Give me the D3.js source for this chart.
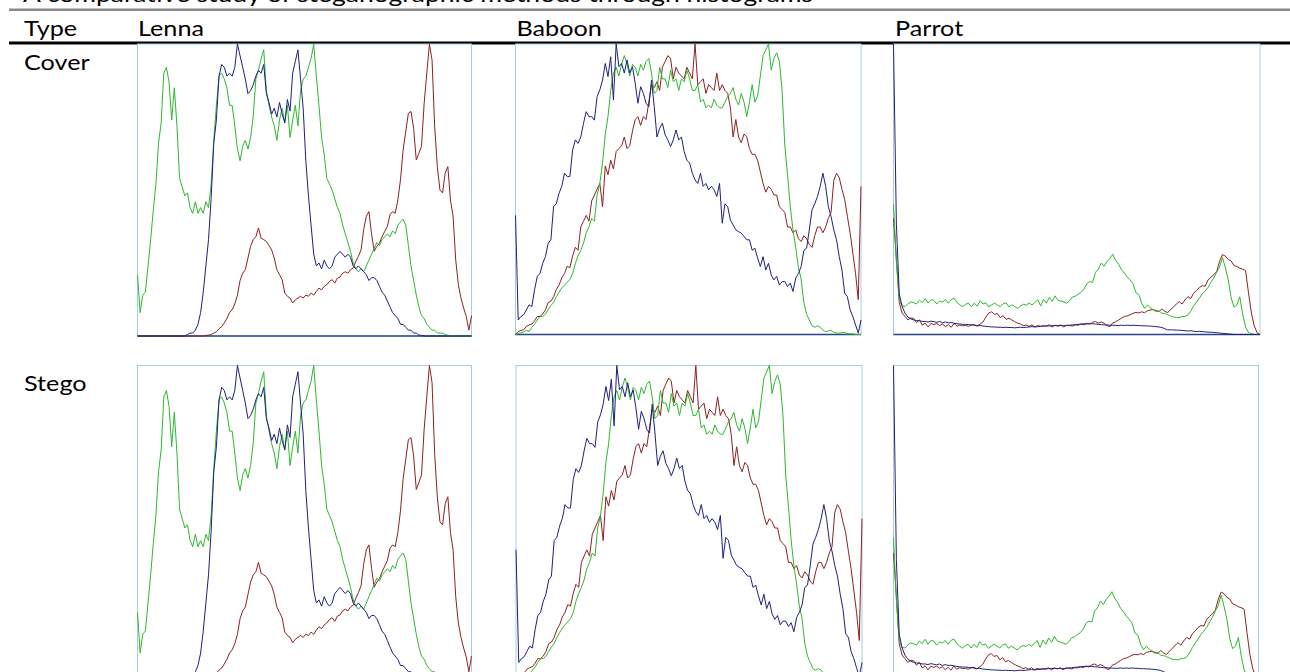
<!DOCTYPE html>
<html>
<head>
<meta charset="utf-8">
<script src="https://cdn.jsdelivr.net/npm/d3@7/dist/d3.min.js"></script>
<style>
  body { margin: 0; background: #fff; }
  svg text { font-family: Lato, "Open Sans", sans-serif; fill: #000; }
</style>
</head>
<body>
<div id="chart"></div>
<script>
// Table text
var title = "A comparative study of steganographic methods through histograms";
var typeLabel = "Type";
var images = ["Lenna", "Baboon", "Parrot"];
var rows = ["Cover", "Stego"];

// Histograms, 128 samples (every 2nd bin), scaled so the panel top is 100
var lennaRed = [0,0,0,0,0,0,0,0,0,0, 0,0,0,0,0,0,0,0,0,0, 0,0,0,0,0,0,0.2,0.3,0.5,1,
  1.5,2.5,3.2,4.5,6,8,9,11,14,19, 21.5,22.7,26.7,30.7,33,34,37,33.5,33,32.4,
  31,29.5,26.7,22.7,21,19.3,14.7,13.6,13,11.3, 12.4,13,13.6,13,14,13.6,14.7,14,15.3,16.4,
  15.8,17,17.6,18.7,19.3,18.1,19.8,20.2,21.5,22, 21.5,22.7,23.3,25.5,27.3,29.5,36.4,41,42.6,35,
  29,30.7,31.8,34,35.8,37.5,41.5,42.6,42,46.6, 53.5,63.7,70,76.3,76.9,71,60.3,62.6,65,79.7,
  90,100,94.5,71.7,58,50,49,55.8,58,46.6, 41,26,17.6,13,9.6,6.7,2,7];
var lennaGreen = [21,8,14,15,24,33,43,52,66,73, 90,92,87,74,85,72,54,51,48,49,
  44,42,46,42,44,42,46,44,52,67, 79,89,90,88,85,79,79,72,64,60,
  65,67,64,68,75,88,91,95,98,84, 79,75,72,67,74,78,73,79,68,74,
  79,72,84,88,89,92,95,100,89,79, 68,62,54,52,50,47,44,42,38,35,
  32,29,25,23,22,23,22,24,26,28, 30,32,31,33,34,35,34,36,35,38,
  39,40,38,31,24,19,14,10,7,6, 4,3,2,2,1,1,1,0.5,0.3,0.1, 0,0,0,0,0,0,0,0];
var lennaBlue = [0,0,0,0,0,0,0,0,0,0, 0,0,0,0,0,0,0,0,0,0.5,
  1,1,2,4,8,15,24,33,47,66, 74,89,93,92,89,90,89,92,100,96,
  92,88,83,84,86,89,91,90,93,83, 80,76,78,75,80,76,73,81,77,90,
  94,98,88,78,60,48,38,28,24,25, 23,26,24,23,24,27,28,29,28,27,
  28,27,24,23,24,23,22,21,19,20, 20,19,17,15,14,12,10,8,7,6,
  4,4,3,2,2,1,1,0.3,0.2,0, 0,0,0,0,0,0,0,0,0,0, 0,0,0,0,0,0,0,0];

var baboonRed = [0,1,1.4,1.6,2.8,3.3,3.6,4.7,6.2,6.2, 7,8.5,11,11.5,13,15.5,17,19.5,21,23.5,
  23,27,30,29,37,39,41,39,46,48, 50,52,44,58,55,60,57,63,64,65,
  68,64,65,70,74,75,72,75,74,80, 86,85,87,84,92,94,96,95,88,92,
  90,89,88,92,90,88,100,86,87,88, 83,86,85,84,90,84,86,84,83,78,
  68,74,68,66,69,68,64,62,62,60, 56,52,49,51,50,48,48,44,43,42,
  37,37,35,36,33,32,34,33,31,30, 34,37,37,35,37,40,42,53,55.5,54, 50,46.5,40.6,35,28,21,12,51];
var baboonGreen = [0,0.3,0.6,0.8,1.5,1,2.5,3.5,5,6.2, 6.2,7,8.5,10,11,13,14.5,16,17,18,
  19,21,24.5,27,29,31.4,35,37,40,39, 48,52,59,69,75,84,90,92,89,93,
  96,93,89,93,92,89,93,91,94,95, 90,83,84,92,88,88,85,91,87,88,
  84,88,87,91,88,84,84,86,80,81, 78,79,78,81,79,78,78,80,82,83,
  85,81,79,83,80,75,80,86,80,82, 89,96,98,100,91,95,97,94,84,65,
  55,44,36,30,23,19,11,7,5,3, 2.5,3,2.5,1.5,1,1.2,1.5,0.8,0.5,0.5, 0.6,0.7,0.3,0.2,0.2,0,0,0];
var baboonBlue = [41,5,6.2,6.8,8.5,10.2,9.6,15.4,20,21, 24.5,26.8,31.4,32.6,44,45,48.6,51,55.5,54.4,
  54.4,63.5,67,65.8,68,72.7,76.7,75,75,73.8, 81.9,84.2,87.6,93.3,88.8,95.6,80.7,100,92.2,93.3,
  90,94.5,90,92.2,86.5,79.6,85.3,83,79.6,78.4, 87.6,78.4,68,71,72.7,68.7,67,64.7,67,70.4,
  67,68,63,60,59,55.5,53.2,52,55.5,51, 52,49.8,51,49.8,47.5,52,38.3,45,44,39.4,
  37.7,36,35.4,34.9,33.7,32.6,32.6,29,29.7,26.3, 23.4,26.8,22.2,24.5,20.5,18.8,20,17,18.2,18.2,
  16.5,17.7,14.8,19.4,21,23.4,29,29.7,36,42.9, 45,47.5,51,55.5,51,44,40.6,36,32.6,26.8,
  22.2,14.2,13,8.5,6.2,3.3,0.5,5];

var parrotRed = [40,26,11,7.3,6.2,5,5.7,5.5,4.1,5, 3.2,3.9,2.6,3.8,3.4,3.8,3.1,3.6,2.7,3.4,
  2.5,3.8,2.8,3.3,3,3.1,2.8,3.3,3.4,2.9, 3.6,4.3,6,7.4,7.8,6.9,7.2,5.8,6.5,5.2,
  5.6,5,4.4,3.9,3.6,3,3.3,2.8,3.3,2.6, 3.1,2.8,3,2.9,3.3,2.6,3.2,2.9,3.3,2.6,
  3.2,3.1,2.9,3.3,3.2,3.6,3.3,3.9,3.5,4.2, 4.5,3.9,4.3,3.9,3,2.7,4,4.4,5,5.6,
  6.2,6.4,6.8,7.3,7.6,7.4,7.8,7.5,8.2,8.4, 8.6,8.2,7.9,8.8,8,7.5,8.6,9.4,10.5,11.3,
  10.5,11.9,13,12.4,14.2,15.1,16.2,16.8,16.6,18.8, 19.7,20.6,21.7,25.2,27.5,27,25.8,25.3,23.7,23.4,
  22.8,22.5,22,14.5,7.5,3,0.6,0];
var parrotGreen = [45,25,12,9.8,9.6,10.6,11.2,11,10.5,11.8, 11,12.4,10.8,12,11.8,10.5,11.5,11.2,12,10.8,
  12,12.5,11,10.2,9.6,10.4,10.8,9.6,10.8,9.8, 11.6,10.5,10.9,9.5,10.2,10.8,10.2,9.6,10.6,10.9,
  9.5,10.2,9.6,9,9.8,10.4,10.1,10.8,10.2,11, 12,9.8,12.1,10.8,12.8,11.4,13.3,11.8,11.5,11.2,
  10.8,11.6,12.9,13.2,13.9,14.5,15.6,17.5,18.2,17.9, 21.4,22.5,24.6,23.5,25.2,26.2,27.6,25.5,24.2,22.3,
  21.2,19.8,18.8,17.5,14.4,13.8,10.8,9,10.2,9.2, 8.5,7.9,8.1,7.3,7.2,6.8,6.4,6,5.9,5.8,
  6.2,6.2,6.7,8,9.8,11.2,12.5,14,15,16.2, 18,19.5,21.5,23.2,26.5,23,18.8,12.6,9.4,10.2,
  13,7,2.6,0.7,0.3,0,0,0];
var parrotBlue = [100,38,14,9.6,7.3,6,5.4,5,4.8,4.7, 4.5,4.5,4.3,4.6,4.4,4.2,4.5,4,4.3,4,
  4.1,3.9,3.7,3.6,3.5,3.5,3.4,3.3,3.2,3, 3.1,2.9,2.8,2.7,2.6,2.6,2.5,2.5,2.4,2.5,
  2.4,2.4,2.3,2.4,2.5,2.4,2.5,2.6,2.7,2.6, 2.7,2.8,2.9,2.9,3,3,3.1,3,3.1,3,
  3.1,3.2,3.3,3.4,3.5,3.6,3.7,3.6,3.8,3.7, 3.6,3.5,3.4,3.3,3.3,3.2,3.2,3.1,3.1,3.2,
  3.1,3.2,3.1,3.2,3.1,3.1,3,3,2.9,2.9, 2.8,2.7,2.6,2.4,2,1.6,1.6,1.6,1.5,1.5,
  1.4,1.3,1.2,1.3,1.1,1,1.1,1,0.9,0.8, 0.8,0.7,0.6,0.5,0.4,0.3,0.2,0.1,0,0,
  0,0,0,0,0,0,0,0];

var series = {
  Lenna:  [lennaRed, lennaGreen, lennaBlue],
  Baboon: [baboonRed, baboonGreen, baboonBlue],
  Parrot: [parrotRed, parrotGreen, parrotBlue]
};
var channelColors = ["#8e2020", "#2db82d", "#1f1f7c"];

var width = 1290, height = 672;
var svg = d3.select("#chart").append("svg")
  .attr("width", width).attr("height", height);

// panel boxes: [left, top, right, bottom]
var boxes = {
  Cover: { Lenna: [137.5, 44, 471.5, 336], Baboon: [515.5, 44, 861, 334.5], Parrot: [893.5, 44, 1260, 334.5] },
  Stego: { Lenna: [137.5, 365.5, 471.5, 678], Baboon: [516, 365.5, 862, 678], Parrot: [893.5, 365.5, 1258.5, 678] }
};

// text helper, squeezed a little so the widths look like the Calibri original
var fontSize = 21.5;
var hScale = 1;
function label(txt, x, y, forcedWidth) {
  var t = svg.append("text").attr("x", x).attr("y", y)
    .style("font-size", fontSize + "px").text(txt);
  var w = forcedWidth || t.node().getComputedTextLength() * hScale;
  t.attr("textLength", w).attr("lengthAdjust", "spacingAndGlyphs");
  return t;
}
// calibrate on "Lenna" which is about 66px wide in the original
var probe = svg.append("text").style("font-size", fontSize + "px").text(images[0]);
hScale = 66 / probe.node().getComputedTextLength();
probe.remove();

// title (cut off at the top) and rules
label(title, 23, 2, 790);
svg.append("line").attr("x1", 9).attr("x2", width).attr("y1", 9.7).attr("y2", 9.7)
  .attr("stroke", "#8a8a8a").attr("stroke-width", 2.5);

label(typeLabel, 24, 36);
var colX = [138, 516.5, 895];
images.forEach(function (name, i) { label(name, colX[i], 36); });

svg.append("line").attr("x1", 9).attr("x2", width).attr("y1", 43).attr("y2", 43)
  .attr("stroke", "#000").attr("stroke-width", 3);

var rowY = [69.5, 390.5];
rows.forEach(function (r, ri) {
  label(r, 24, rowY[ri]);

  images.forEach(function (name) {
    var b = boxes[r][name];
    var g = svg.append("g");
    var data = series[name];

    var x = d3.scaleLinear().domain([0, data[0].length - 1]).range([b[0], b[2]]);
    var y = d3.scaleLinear().domain([0, 100]).range([b[3], b[1]]);

    g.append("rect")
      .attr("x", b[0]).attr("y", b[1])
      .attr("width", b[2] - b[0]).attr("height", b[3] - b[1])
      .attr("fill", "#fff").attr("stroke", "#a3cde0").attr("stroke-width", 1);

    g.append("line")
      .attr("x1", b[0]).attr("x2", b[2]).attr("y1", b[3]).attr("y2", b[3])
      .attr("stroke", "#2b4488").attr("stroke-width", 1.5);

    var line = d3.line()
      .x(function (d, i) { return x(i); })
      .y(function (d) { return y(d); });

    data.forEach(function (vals, ci) {
      g.append("path")
        .datum(vals)
        .attr("d", line)
        .attr("fill", "none")
        .attr("stroke", channelColors[ci])
        .attr("stroke-width", 1);
    });
  });
});
</script>
</body>
</html>
